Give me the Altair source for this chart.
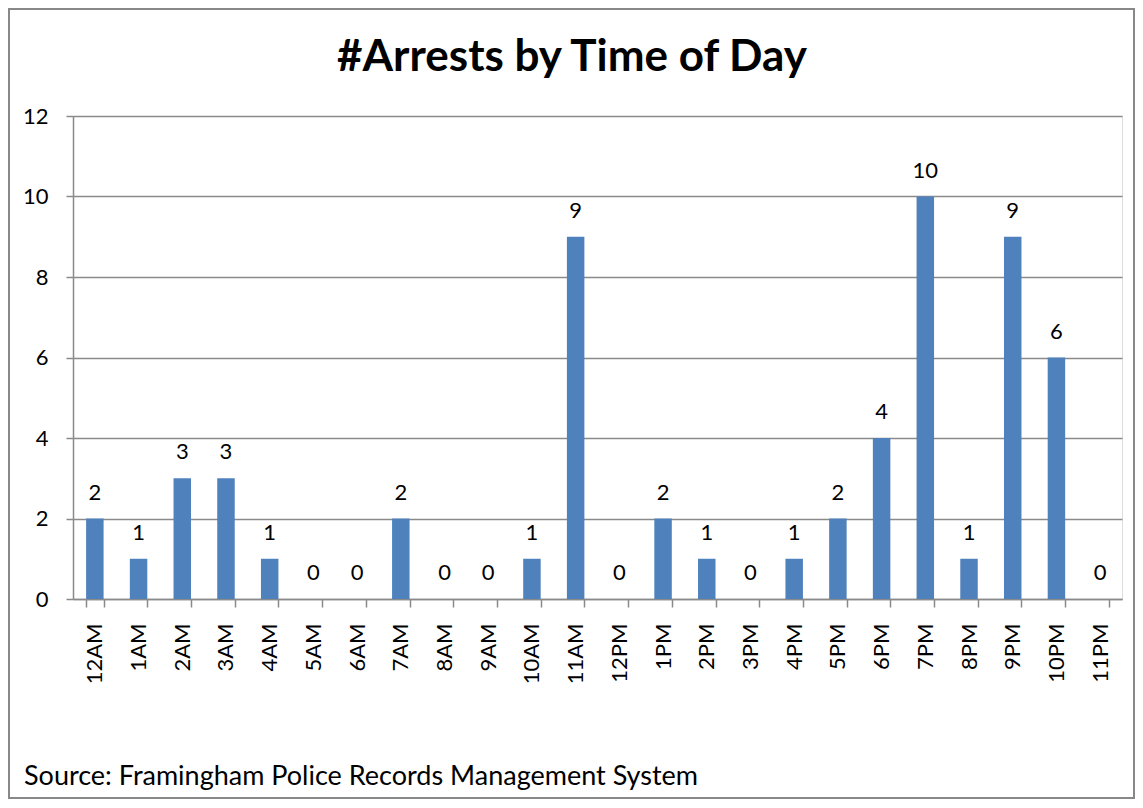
import altair as alt
import pandas as pd

hours = ["12AM", "1AM", "2AM", "3AM", "4AM", "5AM", "6AM", "7AM", "8AM", "9AM", "10AM", "11AM",
         "12PM", "1PM", "2PM", "3PM", "4PM", "5PM", "6PM", "7PM", "8PM", "9PM", "10PM", "11PM"]
arrests = [2, 1, 3, 3, 1, 0, 0, 2, 0, 0, 1, 9, 0, 2, 1, 0, 1, 2, 4, 10, 1, 9, 6, 0]
y_ticks = [0, 2, 4, 6, 8, 10, 12]
title_text = "#Arrests by Time of Day"
source_text = "Source:  Framingham Police Records Management System"

df = pd.DataFrame({"hour": hours, "arrests": arrests})

W, H = 1049, 483
PL, PT, PR, PB = 65, 108, 13, 200
FONT = "Lato"
GRID = "#8a8a8a"

x_enc = alt.X("hour:N", sort=hours,
              scale=alt.Scale(paddingInner=0.6, paddingOuter=0.3),
              axis=alt.Axis(title=None, labelAngle=-90, tickBand="extent", labelFontSize=22,
                            labelFont=FONT, labelColor="black", labelPadding=16,
                            domainColor=GRID, domainWidth=1.5, tickColor=GRID, tickWidth=1.5,
                            tickSize=8, grid=False))
y_enc = alt.Y("arrests:Q", scale=alt.Scale(domain=[0, 12], nice=False),
              axis=alt.Axis(title=None, values=y_ticks, labelFontSize=22, labelFont=FONT,
                            labelColor="black", labelPadding=18, domainColor=GRID, domainWidth=1.5,
                            tickColor=GRID, tickWidth=1.5, tickSize=7, gridColor=GRID, gridWidth=1.5))

base = alt.Chart(df)
bars = base.mark_bar(color="#4F81BD").encode(x=x_enc, y=y_enc)
labels = base.mark_text(font=FONT, fontSize=22, color="black", baseline="alphabetic", dy=-19).encode(
    x=alt.X("hour:N", sort=hours), y="arrests:Q", text="arrests:Q")

frame = alt.Chart(pd.DataFrame({"a": [0]})).mark_rect(fill=None, stroke="#888888", strokeWidth=2, clip=False).encode(
    x=alt.value(-PL + 1), x2=alt.value(W + PR - 1), y=alt.value(-PT + 1), y2=alt.value(H + PB - 1))
title = alt.Chart(pd.DataFrame({"a": [0]})).mark_text(font=FONT, fontSize=44, fontWeight="bold", color="black",
                                                     align="center", baseline="alphabetic").encode(
    x=alt.value(499), y=alt.value(71 - 116), text=alt.value(title_text))
source = alt.Chart(pd.DataFrame({"a": [0]})).mark_text(font=FONT, fontSize=27, color="black",
                                                      align="left", baseline="alphabetic").encode(
    x=alt.value(24 - 73), y=alt.value(785 - 116), text=alt.value(source_text))

chart = alt.layer(bars, labels, title, source, frame).properties(
    width=W, height=H, autosize=alt.AutoSizeParams(type="none"),
    padding={"left": PL, "top": PT, "right": PR, "bottom": PB}
).configure_view(stroke=None).configure(background="white")

chart.save("out.html", embed_options={"renderer": "svg", "actions": False})
